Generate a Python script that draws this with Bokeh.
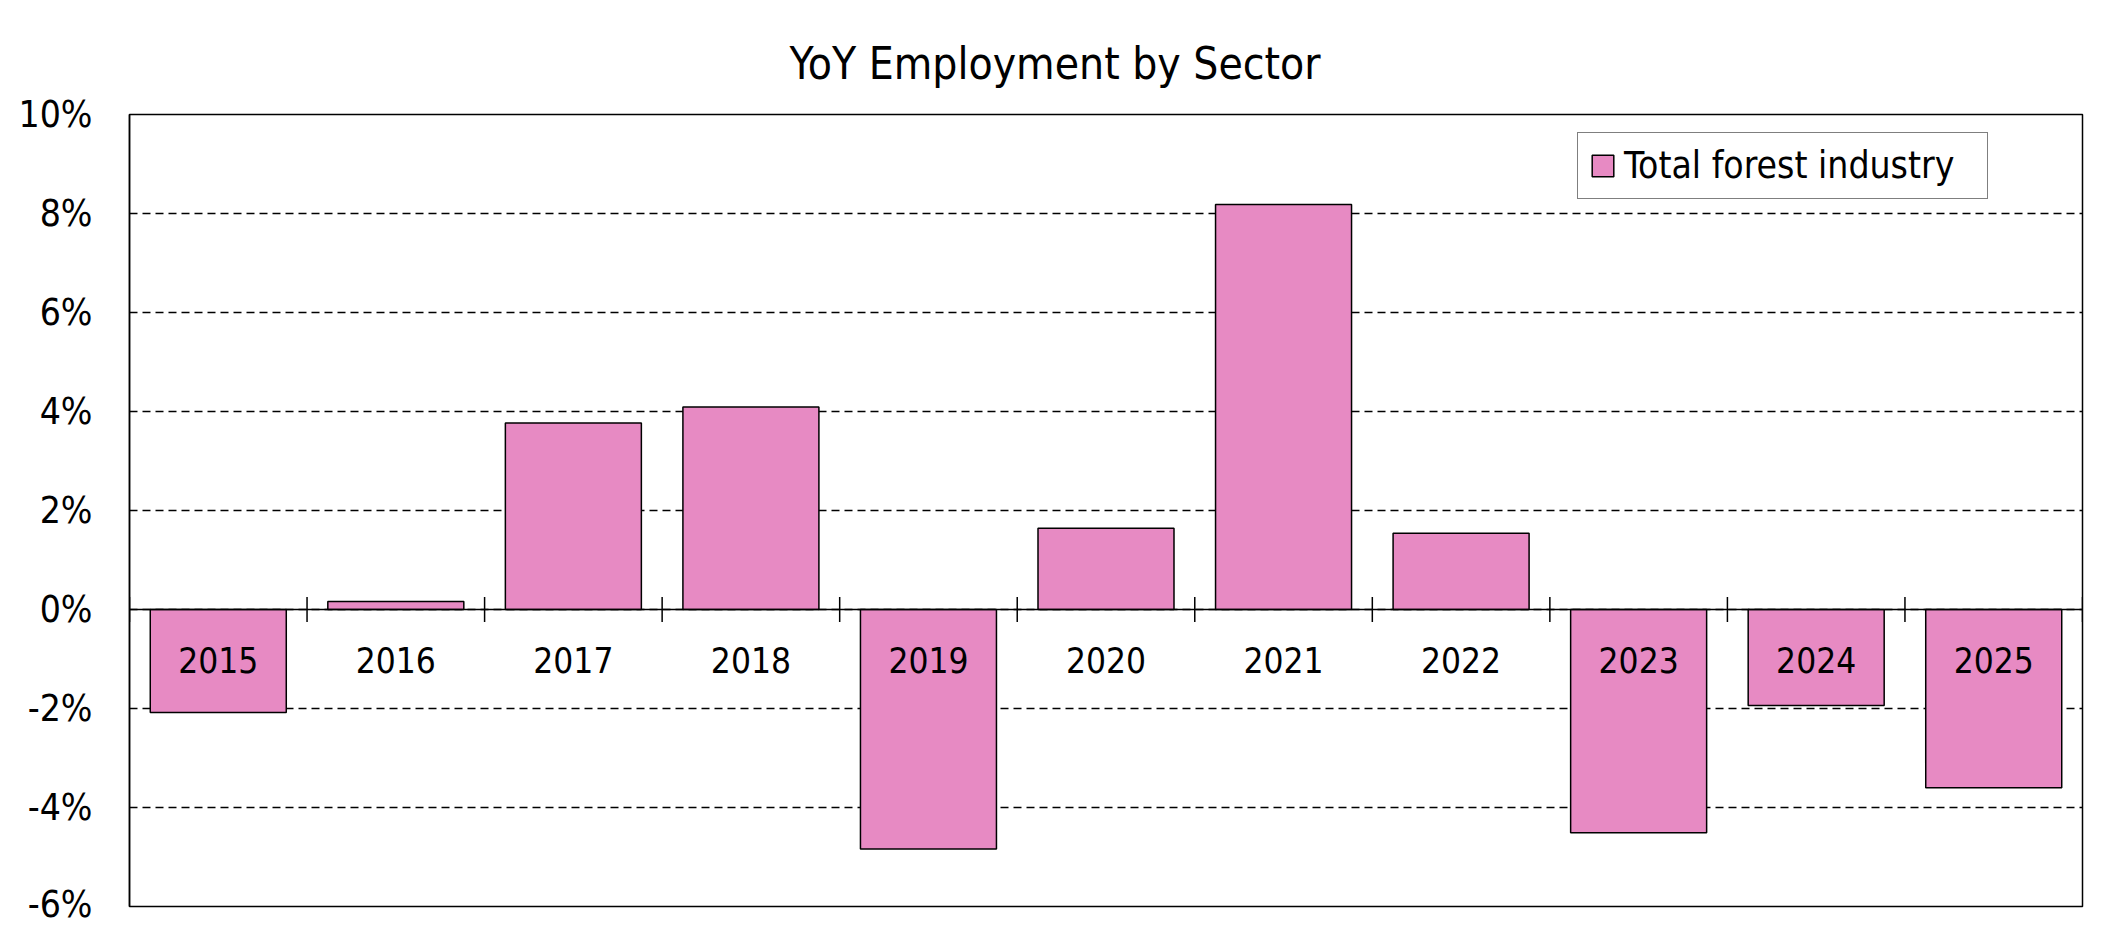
from bokeh.plotting import figure
from bokeh.models import Range1d, ColumnDataSource, Span, FixedTicker, PrintfTickFormatter, Legend, LegendItem
from bokeh.core.properties import value
from bokeh.embed import file_html
from bokeh.resources import INLINE

years = ["2015", "2016", "2017", "2018", "2019", "2020", "2021", "2022", "2023", "2024", "2025"]
yoy_pct = [-2.08, 0.16, 3.77, 4.09, -4.84, 1.64, 8.18, 1.54, -4.51, -1.94, -3.60]
y_ticks = [-6, -4, -2, 0, 2, 4, 6, 8, 10]
series_name = "Total forest industry"
title_text = "YoY Employment by Sector"

FONT = "DejaVu Sans Condensed"
PINK = "#E78AC3"

n = len(years)
centers = [i + 0.5 for i in range(n)]
bounds = list(range(n + 1))

p = figure(width=2093, height=925, output_backend="svg", toolbar_location=None,
           x_range=Range1d(0, n), y_range=Range1d(y_ticks[0], y_ticks[-1]),
           x_axis_location=None,
           min_border_left=129, min_border_right=11, min_border_top=114, min_border_bottom=19)

p.title.text = title_text
p.title.align = "left"
p.title.text_font = FONT
p.title.text_font_size = "44px"
p.title.text_font_style = "normal"
p.title.text_color = "black"
p.title.standoff = 52
p.title.offset = 660

p.background_fill_color = "white"
p.border_fill_color = "white"
p.outline_line_color = "black"
p.outline_line_width = 1.5
p.outline_line_alpha = 1.0

p.xgrid.grid_line_color = None
p.ygrid.ticker = FixedTicker(ticks=y_ticks)
p.ygrid.grid_line_color = "black"
p.ygrid.grid_line_width = 1.6
p.ygrid.grid_line_dash = "8 5"

ax = p.yaxis[0]
ax.ticker = FixedTicker(ticks=y_ticks)
ax.formatter = PrintfTickFormatter(format="%d%%")
ax.axis_line_color = "black"
ax.axis_line_width = 1.5
ax.major_tick_in = 0
ax.major_tick_out = 0
ax.minor_tick_line_color = None
ax.major_label_standoff = 37
ax.major_label_text_font = FONT
ax.major_label_text_font_size = "37px"
ax.major_label_text_color = "black"

src = ColumnDataSource(dict(x=centers, top=yoy_pct, year=years))
bars = p.vbar(x="x", top="top", bottom=0, width=0.766, source=src,
              fill_color=PINK, line_color="black", line_width=1.5)

zero = Span(location=0, dimension="width", line_color="black", line_width=1.5)
p.add_layout(zero)

tsrc = ColumnDataSource(dict(x=bounds, y=[0] * len(bounds)))
p.scatter(x="x", y="y", source=tsrc, marker="dash", angle=1.5707963, size=25,
          line_color="black", line_width=1.5)

p.text(x="x", y=0, text="year", source=src, y_offset=50,
       text_align="center", text_baseline="middle",
       text_font=value(FONT), text_font_size="35px", text_color="black")

legend = Legend(items=[LegendItem(label=series_name, renderers=[bars])],
                location=(1448, 707),
                padding=11, spacing=0, margin=0,
                glyph_width=27, glyph_height=27, label_standoff=8,
                label_width=352,
                label_text_font=FONT, label_text_font_size="37px", label_text_color="black",
                border_line_color="black", border_line_width=1.5,
                background_fill_color="white", background_fill_alpha=1.0)
p.add_layout(legend)

open("out.html", "w").write(file_html(p, INLINE))
